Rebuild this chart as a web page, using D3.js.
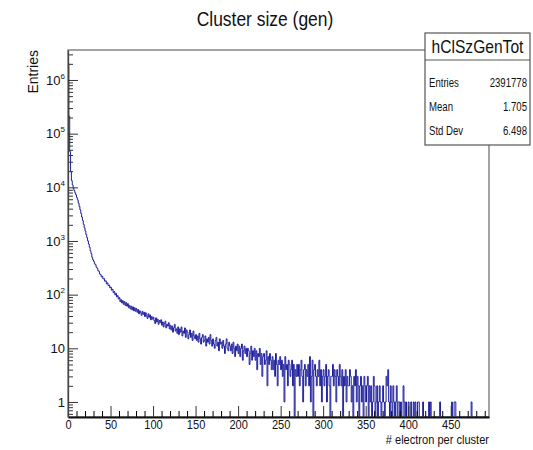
<!DOCTYPE html>
<html>
<head>
<meta charset="utf-8">
<script src="https://cdn.jsdelivr.net/npm/d3@7"></script>
<style>
body { margin: 0; background: #fff; }
text { font-family: 'Liberation Sans', Arial, sans-serif; fill: #111; }
</style>
</head>
<body>
<svg id="hist" width="533" height="450"></svg>
<script>
const title = 'Cluster size (gen)'
const histName = 'hClSzGenTot'
const statLabels = ['Entries', 'Mean', 'Std Dev']
const statValues = ['2391778', '1.705', '6.498']
const xTitle = '# electron per cluster'
const yTitle = 'Entries'
const xRange = [0, 495]
const yRange = [0.525, 3.62e6]
const xTicks = [0, 50, 100, 150, 200, 250, 300, 350, 400, 450]
const yTicks = [1, 10, 1e2, 1e3, 1e4, 1e5, 1e6]
const yTickLabels = [['1', ''], ['10', ''], ['10', '2'], ['10', '3'], ['10', '4'], ['10', '5'], ['10', '6']]
// one bin per electron count, bin i covers [i, i+1)
const counts = [
    2050000, 212000, 46500, 19600, 13300, 11100, 9550, 8720, 7890, 7230,
    6480, 5830, 5090, 4420, 3790, 3260, 2790, 2410, 2040, 1750,
    1530, 1315, 1160, 1005, 878, 765, 655, 580, 498, 446,
    418, 376, 362, 325, 311, 279, 272, 243, 236, 214,
    219, 196, 199, 178, 181, 159, 166, 147, 151, 134,
    138, 121, 126, 109, 114, 99, 106, 91, 96, 83,
    88, 74, 81, 70, 77, 66, 74, 63, 71, 61,
    68, 57, 63, 54, 61, 52, 59, 50, 57, 49,
    55, 47, 53, 44, 50, 46, 41, 49, 43, 47,
    39, 46, 40, 36, 44, 38, 42, 34, 39, 35,
    38, 33, 29, 37, 31, 35, 28, 33, 30, 34,
    27, 31, 25, 29, 32, 24, 28, 26, 30, 23,
    27, 22, 26, 20, 24, 28, 21, 23, 19, 25,
    18, 23, 20, 25, 17, 21, 19, 24, 16, 22,
    20, 15, 18, 22, 16, 19, 14, 21, 17, 15,
    18, 14, 17, 13, 19, 15, 12, 16, 18, 13,
    14, 17, 11, 15, 13, 16, 12, 18, 14, 11,
    15, 12, 10, 14, 16, 11, 13, 9, 15, 12,
    13, 10, 14, 11, 8, 12, 15, 10, 9, 13,
    11, 9, 12, 8, 13, 10, 7, 11, 9, 12,
    8, 11, 7, 10, 12, 6, 9, 11, 8, 10,
    7, 10, 9, 5, 8, 11, 6, 9, 7, 10,
    6, 9, 4, 8, 7, 10, 5, 8, 3, 7,
    8, 5, 6, 9, 2, 7, 5, 8, 6, 4,
    7, 4, 6, 3, 8, 5, 2, 6, 5, 7,
    4, 6, 3, 5, 1, 7, 4, 5, 2, 6,
    5, 3, 4, 6, 2, 5, 0, 4, 3, 5,
    3, 5, 2, 4, 6, 3, 1, 4, 5, 2,
    4, 3, 5, 2, 7, 1, 3, 6, 0, 4,
    5, 3, 2, 4, 3, 6, 2, 4, 1, 3,
    4, 2, 3, 5, 1, 3, 4, 2, 0, 3,
    3, 5, 2, 4, 3, 1, 4, 3, 2, 5,
    3, 2, 4, 0, 3, 2, 4, 1, 3, 2,
    2, 4, 3, 1, 2, 0, 3, 2, 4, 1,
    3, 2, 0, 2, 3, 1, 2, 0, 3, 2,
    1, 2, 3, 0, 2, 1, 2, 0, 1, 3,
    2, 0, 1, 2, 0, 1, 2, 1, 0, 1,
    2, 1, 0, 1, 3, 2, 4, 1, 0, 2,
    1, 0, 2, 1, 0, 1, 2, 0, 1, 1,
    0, 1, 0, 0, 2, 1, 0, 1, 0, 0,
    1, 0, 0, 1, 0, 0, 1, 0, 1, 0,
    0, 1, 1, 0, 0, 0, 0, 1, 0, 0,
    0, 0, 0, 0, 1, 0, 1, 0, 0, 0,
    0, 0, 0, 0, 0, 0, 0, 1, 0, 0,
    0, 0, 0, 0, 0, 0, 0, 0, 0, 0,
    0, 1, 0, 0, 1, 1, 0, 0, 0, 0,
    0, 0, 0, 0, 0, 0, 0, 0, 0, 0,
    0, 0, 0, 0, 1, 0, 0, 0, 0, 0,
    0, 0, 0, 0, 0, 0, 0, 0, 0, 0,
    0, 0, 0, 0, 0
]

// the reference text looks squashed sideways, so shrink glyph widths
function squeeze(sel, k) {
    sel.each(function () {
        let w = this.getComputedTextLength()
        d3.select(this).attr('textLength', w * k).attr('lengthAdjust', 'spacingAndGlyphs')
    })
}

function main() {
    let svg = d3.select('#hist'),
        frame = {left: 68, right: 489, top: 50, bottom: 417}

    let xScale = d3.scaleLinear().domain(xRange).range([frame.left, frame.right]),
        yScale = d3.scaleLog().domain(yRange).range([frame.bottom, frame.top])

    svg.append('rect').attr('width', 533).attr('height', 450).attr('fill', '#fff')

    svg.append('defs').append('clipPath').attr('id', 'clip')
        .append('rect')
        .attr('x', frame.left).attr('y', frame.top)
        .attr('width', frame.right - frame.left).attr('height', frame.bottom - frame.top)

    // histogram outline, empty bins drop to the bottom of the frame
    let yOf = v => v > 0 ? yScale(v) : frame.bottom
    let pts = [[xScale(0), frame.bottom]]
    counts.forEach((v, i) => {
        pts.push([xScale(i), yOf(v)])
        pts.push([xScale(i + 1), yOf(v)])
    })
    pts.push([xScale(counts.length), frame.bottom])

    svg.append('path')
        .attr('clip-path', 'url(#clip)')
        .attr('d', d3.line()(pts))
        .attr('fill', 'none')
        .attr('stroke', '#1f1f9e')
        .attr('stroke-width', 1)

    // frame
    svg.append('rect')
        .attr('x', frame.left).attr('y', frame.top)
        .attr('width', frame.right - frame.left).attr('height', frame.bottom - frame.top)
        .attr('fill', 'none').attr('stroke', '#666').attr('stroke-width', 1.2)

    // x axis: minor ticks every 10, labelled ticks every 50
    let xMinor = d3.range(0, 495, 10).filter(d => d % 50 !== 0)
    svg.append('g')
        .attr('transform', 'translate(0,' + frame.bottom + ')')
        .call(d3.axisBottom(xScale).tickValues(xMinor).tickSize(-6).tickFormat(''))
        .call(g => g.select('.domain').remove())
    let xAxis = svg.append('g')
        .attr('transform', 'translate(0,' + frame.bottom + ')')
        .call(d3.axisBottom(xScale).tickValues(xTicks).tickSize(-11).tickSizeOuter(0).tickPadding(3))
    xAxis.select('.domain').attr('stroke', '#111').attr('stroke-width', 1.8)
    xAxis.selectAll('line').attr('stroke', '#333')
    xAxis.selectAll('text')
        .attr('font-size', 13).attr('fill', '#111')
        .call(squeeze, 0.85)

    // y axis: decades labelled, 2..9 minor ticks
    let yMinor = []
    for (let e = -1; e <= 6; e++) {
        for (let m = 2; m <= 9; m++) {
            let v = m * Math.pow(10, e)
            if (v >= yRange[0] && v <= yRange[1]) yMinor.push(v)
        }
    }
    svg.append('g')
        .attr('transform', 'translate(' + frame.left + ',0)')
        .call(d3.axisLeft(yScale).tickValues(yMinor).tickSize(-5).tickFormat(''))
        .call(g => g.select('.domain').remove())
        .selectAll('line').attr('stroke', '#333')
    let yAxis = svg.append('g')
        .attr('transform', 'translate(' + frame.left + ',0)')
        .call(d3.axisLeft(yScale).tickValues(yTicks).tickSize(-10).tickSizeOuter(0).tickPadding(3).tickFormat(''))
    yAxis.select('.domain').attr('stroke', '#444').attr('stroke-width', 1.3)
    yAxis.selectAll('line').attr('stroke', '#333')
    yAxis.selectAll('.tick text')
        .attr('font-size', 13).attr('fill', '#111')
        .each(function (d, i) {
            let t = d3.select(this)
            t.text(null)
            t.append('tspan').text(yTickLabels[i][0])
            if (yTickLabels[i][1]) {
                t.append('tspan').attr('font-size', 8).attr('dy', -6).text(yTickLabels[i][1])
            }
        })

    // titles
    svg.append('text')
        .attr('x', 265).attr('y', 26)
        .attr('text-anchor', 'middle')
        .attr('font-size', 21)
        .text(title)
        .call(squeeze, 0.83)

    svg.append('text')
        .attr('x', frame.right).attr('y', 444)
        .attr('text-anchor', 'end')
        .attr('font-size', 13)
        .text(xTitle)
        .call(squeeze, 0.85)

    svg.append('text')
        .attr('transform', 'translate(38,' + frame.top + ') rotate(-90)')
        .attr('text-anchor', 'end')
        .attr('font-size', 14)
        .text(yTitle)

    // stats box
    let box = {x: 425, y: 33, w: 105, h: 112, head: 60}
    let stats = svg.append('g')
    stats.append('rect')
        .attr('x', box.x).attr('y', box.y).attr('width', box.w).attr('height', box.h)
        .attr('fill', '#fff').attr('stroke', '#555').attr('stroke-width', 1.2)
    stats.append('line')
        .attr('x1', box.x).attr('x2', box.x + box.w)
        .attr('y1', box.head).attr('y2', box.head)
        .attr('stroke', '#555').attr('stroke-width', 1)
    stats.append('text')
        .attr('x', box.x + box.w / 2).attr('y', 53)
        .attr('text-anchor', 'middle')
        .attr('font-size', 19)
        .text(histName)
        .call(squeeze, 0.82)

    let rowY = d3.scalePoint().domain(statLabels).range([87, 135])
    stats.selectAll('.slabel')
        .data(statLabels)
        .enter()
        .append('text')
        .attr('x', box.x + 4).attr('y', d => rowY(d))
        .attr('font-size', 12)
        .text(d => d)
        .call(squeeze, 0.8)
    stats.selectAll('.svalue')
        .data(statValues)
        .enter()
        .append('text')
        .attr('x', box.x + box.w - 3).attr('y', (d, i) => rowY(statLabels[i]))
        .attr('text-anchor', 'end')
        .attr('font-size', 12)
        .text(d => d)
        .call(squeeze, 0.8)
}

main()
</script>
</body>
</html>
